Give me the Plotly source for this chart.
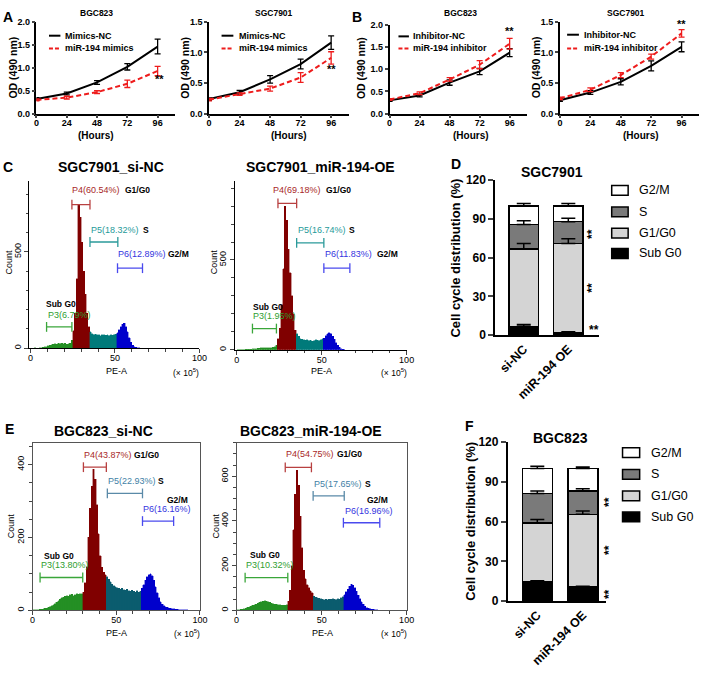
import numpy as np
import plotly.graph_objects as go

W, H = 709, 677
FONT = "Arial, Liberation Sans, sans-serif"

# ---------------- data: growth curves (OD 490 nm) ----------------
hours = [0, 24, 48, 72, 96]
a_bgc_nc = [0.32, 0.44, 0.68, 1.02, 1.46]
a_bgc_nc_err = [0.03, 0.03, 0.04, 0.07, 0.16]
a_bgc_mim = [0.30, 0.35, 0.47, 0.65, 0.93]
a_bgc_mim_err = [0.02, 0.03, 0.03, 0.08, 0.10]
a_sgc_nc = [0.24, 0.35, 0.56, 0.81, 1.16]
a_sgc_nc_err = [0.02, 0.03, 0.06, 0.08, 0.11]
a_sgc_mim = [0.23, 0.32, 0.41, 0.59, 0.91]
a_sgc_mim_err = [0.02, 0.02, 0.04, 0.08, 0.10]
b_bgc_nc = [0.30, 0.41, 0.70, 0.95, 1.37]
b_bgc_nc_err = [0.02, 0.03, 0.06, 0.07, 0.09]
b_bgc_inh = [0.32, 0.46, 0.77, 1.10, 1.57]
b_bgc_inh_err = [0.02, 0.03, 0.04, 0.09, 0.12]
b_sgc_nc = [0.22, 0.345, 0.52, 0.78, 1.09]
b_sgc_nc_err = [0.02, 0.03, 0.05, 0.08, 0.08]
b_sgc_inh = [0.25, 0.39, 0.63, 0.93, 1.31]
b_sgc_inh_err = [0.02, 0.03, 0.04, 0.04, 0.06]
a_labels = ["Mimics-NC", "miR-194 mimics"]
b_labels = ["Inhibitor-NC", "miR-194 inhibitor"]

# ---------------- data: cell cycle distribution (%) ----------------
groups = ["si-NC", "miR-194 OE"]
phases = ["Sub G0", "G1/G0", "S", "G2/M"]
d_subg0 = [6.8, 1.9]
d_g1 = [60.0, 69.0]
d_s = [18.8, 16.9]
d_g2m = [14.4, 12.2]
d_subg0_err = [1.3, 0.6]
d_g1_err = [4.0, 3.6]
d_s_err = [2.8, 2.6]
d_g2m_err = [1.8, 1.8]
f_subg0 = [14.3, 10.5]
f_g1 = [44.5, 55.0]
f_s = [22.5, 17.5]
f_g2m = [18.7, 17.0]
f_subg0_err = [1.0, 0.8]
f_g1_err = [2.8, 2.5]
f_s_err = [1.8, 1.8]
f_g2m_err = [1.8, 1.2]

# ---------------- data: flow cytometry histograms (count per PE-A bin, x1e5) ----------------
c1_counts = [0, 0, 3, 0, 0, 2, 3, 4, 6, 8, 12, 15, 18, 20, 22, 20, 24, 22, 25, 22,
             25, 20, 22, 25, 40, 90, 180, 360, 745, 680, 550, 400, 280, 180, 110,
             85, 75, 70, 72, 68, 70, 65, 70, 68, 66, 70, 64, 68, 66, 70, 72,
             80, 95, 110, 125, 130, 110, 85, 55, 30, 15, 8, 4, 2, 1]
c1_bounds = [25, 35, 51]
c1_gate_x0 = [9.5, 24.5, 35.2, 51.5]
c1_gate_x1 = [24.5, 35.2, 51.7, 66.3]
c1_gate_y = [110, 745, 551, 415]
c1_pct = ["P3(6.79%)", "P4(60.54%)", "P5(18.32%)", "P6(12.89%)"]

c2_counts = [0, 0, 0, 0, 0, 2, 3, 3, 4, 5, 6, 7, 8, 8, 10, 10, 12, 10, 12, 10,
             12, 14, 16, 25, 60, 120, 250, 450, 800, 720, 560, 430, 300, 200, 110,
             90, 75, 62, 58, 55, 52, 55, 50, 52, 48, 50, 55, 52, 50, 55, 60,
             65, 78, 88, 96, 90, 75, 58, 40, 25, 13, 6, 3, 1]
c2_bounds = [24, 35, 51]
c2_gate_x0 = [9.3, 24.3, 35.3, 51.3]
c2_gate_x1 = [23.4, 35.3, 51.3, 66.6]
c2_gate_y = [118, 815, 595, 455]
c2_pct = ["P3(1.95%)", "P4(69.18%)", "P5(16.74%)", "P6(11.83%)"]

e1_counts = [2, 2, 1, 2, 3, 3, 4, 5, 6, 8, 10, 12, 15, 18, 22, 26, 30, 34, 36, 38,
             40, 38, 42, 44, 40, 42, 45, 44, 46, 45,
             50, 75, 120, 200, 280, 340, 388, 360, 290, 210, 150, 118, 105, 98,
             92, 85, 78, 72, 68, 64, 62, 60, 58, 60, 56, 55, 58, 54, 52, 55, 52, 50, 54, 50, 52,
             60, 70, 82, 92, 98, 100, 95, 82, 65, 48, 34, 24, 17, 13, 10, 8, 6, 5, 4, 4,
             3, 3, 2, 2, 2, 1, 1, 1]
e1_bounds = [30, 44, 65]
e1_gate_x0 = [4.5, 30.4, 44.7, 65.7]
e1_gate_x1 = [30.0, 44.1, 65.7, 84.3]
e1_gate_y = [90, 393, 321, 245]
e1_pct = ["P3(13.80%)", "P4(43.87%)", "P5(22.93%)", "P6(16.16%)"]

e2_counts = [2, 3, 4, 5, 6, 10, 14, 16, 18, 22, 25, 28, 32, 35, 38, 40, 42, 40, 38, 35,
             32, 30, 28, 26, 25, 24, 23, 22, 22, 24,
             40, 90, 200, 360, 520, 626, 560, 420, 280, 180, 140, 115, 100, 88, 78,
             62, 58, 55, 54, 52, 50, 48, 50, 48, 50, 49, 52, 50, 48, 52, 50, 55, 60,
             70, 82, 95, 108, 117, 112, 100, 85, 68, 52, 38, 26, 18, 12, 9, 7, 5, 4, 3, 2, 1]
e2_bounds = [30, 45, 63]
e2_gate_x0 = [5.0, 28.6, 45.0, 62.8]
e2_gate_x1 = [30.1, 44.0, 63.3, 84.2]
e2_gate_y = [146, 640, 512, 392]
e2_pct = ["P3(10.32%)", "P4(54.75%)", "P5(17.65%)", "P6(16.96%)"]

phase_names = ["Sub G0", "G1/G0", "S", "G2/M"]

# ---------------- helpers ----------------
def xdom(a, b):
    return [a / W, b / W]

def ydom(top, bottom):
    return [1 - bottom / H, 1 - top / H]

def px(p):
    return p / W

def py(p):
    return 1 - p / H

def axn(kind, i):
    return kind if i == 1 else f"{kind}{i}"

fig = go.Figure()
layout = dict(width=W, height=H, margin=dict(l=0, r=0, t=0, b=0),
              paper_bgcolor="white", plot_bgcolor="rgba(0,0,0,0)",
              showlegend=False, barmode="stack",
              font=dict(family=FONT, color="black"))
annotations = []
shapes = []

def ann(text, x, y, size, xref="paper", yref="paper", color="black", bold=False,
        xanchor="center", yanchor="middle", angle=0):
    annotations.append(dict(text=f"<b>{text}</b>" if bold else text, x=x, y=y, xref=xref, yref=yref,
                            showarrow=False, xanchor=xanchor, yanchor=yanchor, textangle=angle,
                            font=dict(family=FONT, size=size, color=color), borderpad=0))

RED = "#ee1c1c"

# ---------------- growth-curve panels ----------------
growth = [
    (1, [34, 175.0], [15, 109], 2.0, a_bgc_nc, a_bgc_nc_err, a_bgc_mim, a_bgc_mim_err, a_labels),
    (2, [209.3, 351.4], [15, 109], 1.5, a_sgc_nc, a_sgc_nc_err, a_sgc_mim, a_sgc_mim_err, a_labels),
    (3, [392.7, 532.4], [18, 109], 2.0, b_bgc_nc, b_bgc_nc_err, b_bgc_inh, b_bgc_inh_err, b_labels),
    (4, [565.7, 707.3], [15, 109], 1.5, b_sgc_nc, b_sgc_nc_err, b_sgc_inh, b_sgc_inh_err, b_labels),
]
tickf = dict(family=FONT, size=9, color="black", weight="bold")
for i, xd, yd, top, nc, ncerr, tr, trerr, labs in growth:
    fig.add_trace(go.Scatter(x=hours, y=nc, mode="lines", line=dict(color="black", width=2),
                             error_y=dict(type="data", array=ncerr, color="black", thickness=1.3, width=3),
                             xaxis=axn("x", i), yaxis=axn("y", i), cliponaxis=False))
    fig.add_trace(go.Scatter(x=hours, y=tr, mode="lines", line=dict(color=RED, width=2, dash="5px,3px"),
                             error_y=dict(type="data", array=trerr, color=RED, thickness=1.3, width=3),
                             xaxis=axn("x", i), yaxis=axn("y", i), cliponaxis=False))
    layout[axn("xaxis", i)] = dict(domain=xdom(*xd), range=[0, 110], tickvals=hours, ticks="outside",
                                   ticklen=3, tickwidth=1.5, showline=True, linewidth=1.5, linecolor="black",
                                   showgrid=False, zeroline=False, tickfont=tickf, ticklabelstandoff=-3,
                                   anchor=axn("y", i))
    layout[axn("yaxis", i)] = dict(domain=ydom(*yd), range=[0, top], dtick=0.5, tickformat=".1f",
                                   ticks="outside", ticklen=3, tickwidth=1.5, showline=True, linewidth=1.5,
                                   linecolor="black", showgrid=False, zeroline=False, tickfont=tickf,
                                   anchor=axn("x", i))

# growth-curve texts
for x, t in [(95, "BGC823"), (275, "SGC7901"), (465, "BGC823"), (633, "SGC7901")]:
    ann(t, px(x), py(6), 8.5, bold=True)
for x in [10, 185, 363, 541]:
    ann("OD (490 nm)", px(x), py(62), 10.5, bold=True, angle=-90)
for x in [94.3, 290, 475, 648]:
    ann("(Hours)", px(x), py(131), 10, bold=True)
# in-plot legends
leg_pos = [(46.7, 58.3, 62, 29.3, 42.3, a_labels), (222, 234, 238.3, 29.3, 42.3, a_labels),
           (401.7, 412.3, 415.7, 30, 42.3, b_labels), (573, 585, 589.3, 28.3, 42.3, b_labels)]
for x0, x1, xt, y1, y2, labs in leg_pos:
    shapes.append(dict(type="line", xref="paper", yref="paper", x0=px(x0), x1=px(x1), y0=py(y1), y1=py(y1),
                       line=dict(color="black", width=2)))
    shapes.append(dict(type="line", xref="paper", yref="paper", x0=px(x0), x1=px(x1), y0=py(y2), y1=py(y2),
                       line=dict(color=RED, width=2, dash="4px,2px")))
    ann(labs[0], px(xt), py(y1), 9, bold=True, xanchor="left")
    ann(labs[1], px(xt), py(y2), 9, bold=True, xanchor="left")
# significance
for i, xv, yv in [(1, 97.4, 0.745), (2, 96, 0.73), (3, 96, 1.85), (4, 96, 1.47)]:
    ann("**", xv, yv, 11, xref=axn("x", i), yref=axn("y", i), bold=True)

# ---------------- flow histograms ----------------
FILL_C = ["#248f24", "#800000", "#007a7a", "#0000cc"]
FILL_E = ["#248f24", "#800000", "#0b5c6e", "#0000cc"]
GATE_C = ["#3aa63a", "#b84040", "#2a9a9a", "#4a4aee"]
GATE_E = ["#3aa63a", "#b84040", "#5a8aa8", "#4a4aee"]
LAB_C = ["#2f9e2f", "#a82828", "#1f9a9a", "#3535e0"]
LAB_E = ["#2f9e2f", "#a82828", "#3f7fa6", "#3535e0"]

def region(i, bounds):
    if i < bounds[0]:
        return 0
    if i < bounds[1]:
        return 1
    if i < bounds[2]:
        return 2
    return 3

hists = [
    (5, c1_counts, c1_bounds, c1_gate_x0, c1_gate_x1, c1_gate_y, FILL_C, GATE_C,
     [26.6, 199.5], [178, 348.3], [-0.8, 100], 866, [0, 500], False),
    (6, c2_counts, c2_bounds, c2_gate_x0, c2_gate_x1, c2_gate_y, FILL_C, GATE_C,
     [235.6, 410], [178, 350], [-1, 100], 938, [0, 500], False),
    (8, e1_counts, e1_bounds, e1_gate_x0, e1_gate_x1, e1_gate_y, FILL_E, GATE_E,
     [30, 200], [445, 616], [0, 100], 460, [0, 200, 400], True),
    (9, e2_counts, e2_bounds, e2_gate_x0, e2_gate_x1, e2_gate_y, FILL_E, GATE_E,
     [237.3, 410], [445, 616], [0, 100], 750, [0, 200, 400, 600], True),
]
small = dict(family=FONT, size=9, color="black")
for i, counts, bounds, gx0, gx1, gy, fills, gcols, xd, yd, xr, ytop, yt, boxed in hists:
    xs = np.arange(len(counts)) + 0.5
    cols = [fills[region(k, bounds)] for k in range(len(counts))]
    fig.add_trace(go.Bar(x=xs, y=counts, width=1.0, marker=dict(color=cols, line=dict(color=cols, width=0.4)),
                         xaxis=axn("x", i), yaxis=axn("y", i)))
    for g in range(4):
        fig.add_trace(go.Scatter(x=[gx0[g], gx1[g]], y=[gy[g], gy[g]], mode="lines+markers",
                                 line=dict(color=gcols[g], width=1.3),
                                 marker=dict(symbol="line-ns", size=7, line=dict(color=gcols[g], width=1.3)),
                                 xaxis=axn("x", i), yaxis=axn("y", i), cliponaxis=False))
    lc = "#555555" if boxed else "black"
    layout[axn("xaxis", i)] = dict(domain=xdom(*xd), range=xr, tickvals=[0, 50, 100], ticks="outside",
                                   ticklen=4, tickwidth=1, showline=True, linewidth=1, linecolor=lc,
                                   mirror=boxed, showgrid=False, zeroline=False, tickfont=small,
                                   ticklabelstandoff=-3,
                                   minor=dict(tickvals=list(range(0, 101, 10)), ticks="outside", ticklen=2.5,
                                              tickwidth=1, showgrid=False),
                                   anchor=axn("y", i))
    layout[axn("yaxis", i)] = dict(domain=ydom(*yd), range=[0, ytop], tickvals=yt, ticks="outside",
                                   ticklen=4, tickwidth=1, showline=True, linewidth=1, linecolor=lc,
                                   mirror=boxed, showgrid=False, zeroline=False, tickfont=small, tickangle=-90,
                                   minor=dict(dtick=100 if not boxed else 50, ticks="outside", ticklen=2.5,
                                              tickwidth=1, showgrid=False),
                                   anchor=axn("x", i))

# histogram labels: (axis index, pct texts, label colours, positions)
hist_labels = [
    (5, c1_pct, LAB_C, [(9.5, 174), (24.1, 822), (35.2, 615), (51.3, 488)],
     [(8.5, 229), (55.2, 822), (66.3, 615), (80.9, 488)]),
    (6, c2_pct, LAB_C, [(9.3, 187), (20.7, 891), (35.3, 669), (51.3, 536)],
     [(9.3, 240), (52, 891), (65.3, 669), (82, 536)]),
    (8, e1_pct, LAB_E, [(4.5, 124), (30.4, 427), (44.7, 355), (65.7, 279)],
     [(6.3, 149), (59.8, 427), (74.5, 355), (79.8, 303)]),
    (9, e2_pct, LAB_E, [(5, 202), (28.6, 699), (45, 567), (63, 443)],
     [(7.4, 246), (58.5, 699), (75, 567), (75.9, 494)]),
]
for i, pct, lcols, ppos, npos in hist_labels:
    for g in range(4):
        ann(pct[g], ppos[g][0], ppos[g][1], 9, xref=axn("x", i), yref=axn("y", i), color=lcols[g],
            xanchor="left")
        ann(phase_names[g], npos[g][0], npos[g][1], 8.5, xref=axn("x", i), yref=axn("y", i), bold=True,
            xanchor="left")

for x, y, t in [(110, 163, "SGC7901_si-NC"), (322, 163, "SGC7901_miR-194-OE"),
                (102.5, 432.7, "BGC823_si-NC"), (313, 432.7, "BGC823_miR-194-OE")]:
    ann(t, px(x), py(y), 14, bold=True)
for x, y in [(115, 372), (323.3, 372), (115, 639), (324.3, 639)]:
    ann("PE-A", px(x), py(y), 9)
for x, y in [(186, 373.5), (397, 373.5), (187, 640), (397, 640)]:
    ann("(× 10<sup>5</sup>)", px(x), py(y), 8.5)
for x, y in [(6, 260), (214, 260), (8.3, 530), (216.7, 530)]:
    ann("Count", px(x), py(y), 9, angle=-90)

# ---------------- stacked cell-cycle bars ----------------
SEG = ["#000000", "#d4d4d4", "#7a7a7a", "#ffffff"]
bars = [
    (7, [d_subg0, d_g1, d_s, d_g2m], [d_subg0_err, d_g1_err, d_s_err, d_g2m_err],
     [500, 605], [176.7, 335], [-0.64, 1.68]),
    (10, [f_subg0, f_g1, f_s, f_g2m], [f_subg0_err, f_g1_err, f_s_err, f_g2m_err],
     [512.7, 612], [444.3, 606.7], [-0.65, 1.5]),
]
for i, segs, errs, xd, yd, xr in bars:
    for k in range(4):
        fig.add_trace(go.Bar(x=groups, y=segs[k], width=0.66, name=phases[k],
                             marker=dict(color=SEG[k], line=dict(color="black", width=1.5)),
                             xaxis=axn("x", i), yaxis=axn("y", i)))
    tops = np.cumsum(np.array(segs, dtype=float), axis=0)
    for k in range(4):
        fig.add_trace(go.Scatter(x=groups, y=tops[k], mode="markers", marker=dict(size=1, opacity=0),
                                 error_y=dict(type="data", symmetric=False, array=errs[k], arrayminus=[0, 0],
                                              color="black", thickness=1.5, width=7),
                                 xaxis=axn("x", i), yaxis=axn("y", i), cliponaxis=False))
    layout[axn("xaxis", i)] = dict(domain=xdom(*xd), range=xr, type="category", ticks="", showline=True,
                                   linewidth=1.8, linecolor="black", showgrid=False, zeroline=False,
                                   tickangle=-45, tickfont=dict(family=FONT, size=12.5, color="black",
                                                                weight="bold"),
                                   anchor=axn("y", i))
    layout[axn("yaxis", i)] = dict(domain=ydom(*yd), range=[0, 120], dtick=30, ticks="outside", ticklen=5,
                                   tickwidth=1.8, showline=True, linewidth=1.8, linecolor="black",
                                   showgrid=False, zeroline=False,
                                   tickfont=dict(family=FONT, size=12, color="black", weight="bold"),
                                   anchor=axn("x", i))

ann("SGC7901", px(557.5), py(168), 14, bold=True)
ann("BGC823", px(566.7), py(440), 14, bold=True)
ann("Cell cycle distribution (%)", px(460), py(256), 13, bold=True, angle=-90)
ann("Cell cycle distribution (%)", px(475), py(525), 13, bold=True, angle=-90)

# bar legends (top to bottom: G2/M, S, G1/G0, Sub G0)
for bx0, bx1, tx, rows in [(618.3, 635, 645, [187.3, 209.3, 231, 251.7]),
                           (629.3, 646.7, 656.7, [455, 477.3, 499.3, 520.7])]:
    for r, k in zip(rows, [3, 2, 1, 0]):
        shapes.append(dict(type="rect", xref="paper", yref="paper", x0=px(bx0), x1=px(bx1),
                           y0=py(r + 5), y1=py(r - 5), fillcolor=SEG[k], line=dict(color="black", width=1.5)))
        ann(phases[k], px(tx), py(r), 12.5, xanchor="left")

# significance marks on bar panels
for x, y, a in [(598.3, 231.7, -90), (598.3, 286.7, -90), (600, 330, 0),
                (615, 505, -90), (615, 554, -90), (615, 599, -90)]:
    ann("**", px(x), py(y), 12, bold=True, angle=a)

# panel letters
for t, x, y in [("A", 5, 10), ("B", 360, 10), ("C", 5, 163), ("D", 460, 160), ("E", 7, 431), ("F", 474, 428)]:
    ann(t, px(x), py(y), 14, bold=True)

layout["annotations"] = annotations
layout["shapes"] = shapes
fig.update_layout(**layout)
fig.write_html("out.html", config={"displayModeBar": False},
               post_script="document.body.style.margin='0px';")
